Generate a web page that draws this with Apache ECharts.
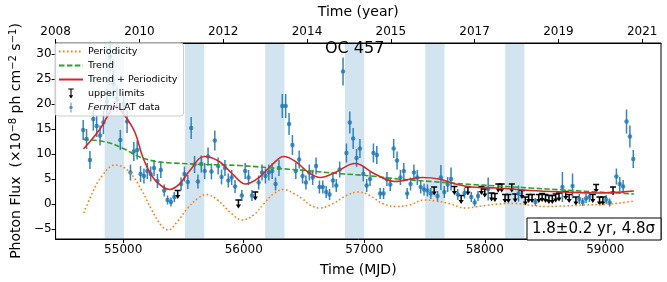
<!DOCTYPE html>
<html><head><meta charset="utf-8">
<script src="https://cdn.jsdelivr.net/npm/echarts@6/dist/echarts.min.js"></script>
<style>html,body{margin:0;padding:0;background:#fff}#c{width:667px;height:282px}</style>
</head><body><div id="c"></div>
<script>
// ---- data ----
const detMJD = [54668,54696,54724,54752,54780,54808,54836,54864,54892,54920,54948,54976,55004,55032,55060,55088,55116,55144,55172,55200,55228,55256,55284,55312,55340,55368,55396,55424,
55480,55508,55536,55564,55592,55620,55648,55676,55704,55732,55760,55788,55816,55844,55872,55900,55928,
55984,56012,56040,56068,56124,56152,56180,56208,56236,56264,56292,56320,56348,56376,56404,56432,56460,56488,56516,56544,56572,56600,56628,56656,56684,56712,56740,56768,56796,56824,56852,56880,56908,56936,56964,56992,57020,57048,57076,57104,57132,57160,57188,57216,57244,57272,57300,57328,57356,57384,57412,57440,57468,57496,57524,57552,
57608,57636,57664,57692,57720,57776,57832,57888,57916,57944,58028,58280,58420,58644,58728,58784,58812,58840,58868,59008,59036,59092,59120,59148,59176,59204,59232];
const detFlux = [14.8,13.0,8.8,17.0,15.6,13.7,16.3,20.5,29.5,24.0,21.0,12.8,20.0,16.5,6.3,10.5,10.8,6.0,5.6,6.6,6.0,7.2,4.6,6.8,2.7,0.8,0.4,1.4,
4.0,6.0,4.4,15.2,7.9,4.5,8.0,6.6,9.5,6.5,12.7,7.6,5.4,7.2,4.7,5.3,3.5,
1.7,6.6,5.3,1.7,4.3,6.3,5.6,6.3,6.6,4.0,7.2,19.6,19.6,16.0,11.8,6.6,8.9,5.6,4.3,6.3,5.3,7.6,3.4,3.4,2.4,1.9,4.7,3.7,6.9,26.5,10.2,16.3,13.1,9.2,11.1,6.0,3.7,5.0,10.2,9.8,2.1,2.1,5.0,3.9,11.1,8.7,5.3,6.6,2.1,4.0,6.3,5.3,3.4,2.9,2.7,2.1,
1.6,5.3,2.4,3.9,5.0,1.9,2.2,1.4,0.3,1.6,3.0,2.1,0.4,3.4,3.6,1.0,0.4,1.1,1.4,0.9,0.3,5.5,4.0,3.5,16.5,13.5,9.0];
const detErr = [2.0,2.0,1.8,2.3,2.2,2.0,2.3,2.6,3.0,2.8,2.6,2.0,2.5,2.3,1.6,1.9,1.9,1.6,1.5,1.6,1.5,1.6,1.4,1.6,1.2,0.9,0.9,1.0,
1.3,1.5,1.4,2.2,1.7,1.4,1.7,1.6,1.8,1.6,2.0,1.7,1.5,1.6,1.4,1.5,1.3,
1.1,1.6,1.5,1.1,1.4,1.6,1.5,1.6,1.6,1.3,1.6,2.4,2.4,2.2,2.0,1.6,1.8,1.5,1.4,1.6,1.5,1.7,1.3,1.3,1.2,1.1,1.4,1.3,1.6,2.8,1.9,2.2,2.1,1.8,1.9,1.5,1.3,1.4,1.9,1.8,1.1,1.1,1.4,1.3,1.9,1.8,1.5,1.6,1.1,1.3,1.6,1.5,1.3,1.2,1.2,1.1,
1.0,2.5,1.2,1.5,2.3,1.1,1.1,1.0,0.8,1.0,2.3,1.6,0.8,3.0,2.5,1.0,0.8,0.9,1.0,0.9,0.8,1.6,1.4,1.3,2.4,2.2,1.8];
const ulMJD = [55452,55956,56096,57580,57748,57804,57860,57972,58000,58056,58084,58112,58140,58168,58196,58224,58252,58308,58336,58364,58392,58448,58476,58504,58532,58560,58588,58616,58672,58700,58756,58896,58924,58952,58980,59064];
const ulFlux = [2.7,0.8,2.4,3.4,3.5,1.7,3.4,3.5,3.0,2.2,2.1,4.0,4.0,1.9,1.9,4.0,2.0,2.7,1.4,1.9,1.9,1.9,2.1,1.9,1.7,1.7,2.0,2.2,2.5,1.9,1.4,1.9,3.9,1.4,1.4,3.4];

const perMJD = [54673,54742,54824,54934,55044,55154,55237,55319,55373,55453,55536,55618,55687,55783,55893,55989,56086,56168,56251,56333,56415,56484,56550,56632,56742,56852,56948,57045,57154,57265,57374,57498,57591,57702,57838,57976,58114,58251,58388,58512,58660,58825,58990,59155,59237];
const perVal = [-1.8,2.1,5.6,7.8,6.6,2.7,-1.2,-4.4,-5.2,-3.4,-0.8,1.1,1.9,0.8,-1.8,-3.2,-2.1,0.1,2.1,2.9,2.1,1.1,-0.2,-0.8,0.1,1.7,2.4,1.7,0.1,-0.5,-0.2,0.8,0.6,0.1,-0.8,-0.4,0.0,0.1,-0.3,-0.5,-0.4,-0.2,-0.1,0.3,0.6];
const trendMJD = [54670,54860,55000,55138,55272,55412,55684,55962,56237,56509,56786,57061,57281,57556,57828,58106,58380,58652,58930,59237];
const trendVal = [12.9,12.4,11.1,9.4,8.5,8.2,7.9,7.7,7.2,6.7,6.1,5.6,5.0,4.5,4.0,3.6,3.2,2.8,2.4,2.0];
const sumMJD = [54670,54808,54876,54934,55008,55096,55165,55247,55330,55385,55467,55550,55674,55797,55907,56016,56127,56237,56333,56429,56539,56635,56758,56923,57088,57253,57481,57619,57756,57894,58106,58380,58655,58930,59237];
const sumVal = [11.0,15.0,17.8,19.6,17.8,14.4,9.2,5.3,3.4,2.9,4.0,6.6,9.5,8.5,6.0,4.0,5.3,7.9,9.5,8.5,6.3,5.3,6.3,8.1,6.0,4.5,5.3,5.0,4.0,3.4,3.2,2.7,2.4,2.2,2.6];

const bandStart = [54846,55512,56178,56840,57506,58169];
const bandEnd   = [55006,55672,56338,57000,57666,58329];

const mjdTicks = [55000,56000,57000,58000,59000];
const yTicks = [-5,0,5,10,15,20,25,30];
const yearLabels = ['2008','2010','2012','2014','2015','2017','2019','2021'];

// ---- chart ----
const F = 'DejaVu Sans';
const chart = echarts.init(document.getElementById('c'), null, {renderer:'canvas'});
const zip = (a,b) => a.map((v,i)=>[v,b[i]]);
const fermiIcon = 'path://M4 0 L6 0 L6 20 L4 20 Z M5 6.5 A3.5 3.5 0 1 1 5 13.5 A3.5 3.5 0 1 1 5 6.5 Z';
const ulIcon = 'path://M0 0 L10 0 L10 2 L6 2 L6 12 L9 12 L5 18 L1 12 L4 12 L4 2 L0 2 Z';
const hideSym = {opacity:0};

chart.setOption({
  animation:false,
  grid:{left:52, right:6, top:38, bottom:42, show:true, borderColor:'#000', borderWidth:1, backgroundColor:'transparent'},
  xAxis:[{
    type:'value', min:54439, max:59462, position:'bottom',
    name:'Time (MJD)', nameLocation:'middle', nameGap:24,
    nameTextStyle:{fontFamily:F, fontSize:14, color:'#000'},
    axisLine:{show:true, onZero:false, lineStyle:{color:'#000', width:1}},
    axisTick:{show:true, length:4, lineStyle:{color:'#000'}, customValues:mjdTicks},
    axisLabel:{fontFamily:F, fontSize:12, color:'#000', margin:5, customValues:mjdTicks, formatter:v=>String(v)},
    splitLine:{show:false}
  },{
    type:'value', min:0, max:7.224, interval:1, position:'top',
    name:'Time (year)', nameLocation:'middle', nameGap:24,
    nameTextStyle:{fontFamily:F, fontSize:14, color:'#000'},
    axisLine:{show:true, onZero:false, lineStyle:{color:'#000', width:1}},
    axisTick:{show:true, length:4, lineStyle:{color:'#000'}},
    axisLabel:{fontFamily:F, fontSize:12, color:'#000', margin:5, formatter:v=>yearLabels[Math.round(v)] || ''},
    splitLine:{show:false}
  }],
  yAxis:{
    type:'value', min:-7, max:32.2,
    name:'Photon Flux  (×10{s|−8} ph cm{s|−2} s{s|−1})', nameLocation:'middle', nameGap:30, nameRotate:90,
    nameTextStyle:{fontFamily:F, fontSize:14, color:'#000', rich:{s:{fontFamily:F, fontSize:10, color:'#000', verticalAlign:'top', padding:[0,0,6,0]}}},
    axisLine:{show:true, onZero:false, lineStyle:{color:'#000', width:1}},
    axisTick:{show:true, length:4, lineStyle:{color:'#000'}, customValues:yTicks},
    axisLabel:{fontFamily:F, fontSize:12, color:'#000', margin:4, customValues:yTicks, formatter:v=> v<0 ? '\u2212'+(-v) : String(v)},
    splitLine:{show:false}
  },
  legend:{
    z:20, orient:'vertical', left:55, top:43, itemWidth:24, itemHeight:10, itemGap:3,
    backgroundColor:'rgba(255,255,255,0.8)', borderColor:'#cccccc', borderWidth:1, borderRadius:3, padding:[3,6,3,3],
    textStyle:{fontFamily:F, fontSize:9.5, color:'#000', lineHeight:11, rich:{i:{fontFamily:F, fontSize:9.5, fontStyle:'italic', color:'#000'}}},
    formatter:n => n==='Fermi-LAT data' ? '{i|Fermi}-LAT data' : n,
    data:[
      {name:'Periodicity', itemStyle:hideSym},
      {name:'Trend', itemStyle:hideSym},
      {name:'Trend + Periodicity', itemStyle:hideSym},
      {name:'upper limits', icon:ulIcon},
      {name:'Fermi-LAT data', icon:fermiIcon}
    ]
  },
  graphic:[
    {type:'text', left:325, top:41, style:{text:'OC 457', font:'16px "DejaVu Sans"', fill:'#000'}, z:10},
    {type:'rect', shape:{x:527, y:218, width:134, height:22}, style:{fill:'#fff', stroke:'#000', lineWidth:1}, z:10},
    {type:'text', left:532, top:222, style:{text:'1.8±0.2 yr, 4.8σ', font:'15px "DejaVu Sans"', fill:'#000'}, z:11}
  ],
  series:[
    {
      name:'bands', type:'custom', z:0, silent:true,
      data: zip(bandStart, bandEnd),
      encode:{x:[0,1]},
      renderItem:(params, api)=>{
        const s = api.coord([api.value(0), 0]);
        const e = api.coord([api.value(1), 0]);
        const cs = params.coordSys;
        return {type:'rect', shape:{x:s[0], y:cs.y, width:e[0]-s[0], height:cs.height}, style:{fill:'#1f77b4', opacity:0.2}};
      }
    },
    {
      name:'errbars', type:'custom', z:3, silent:true,
      data: detMJD.map((m,i)=>[m, detFlux[i], detErr[i]]),
      encode:{x:0, y:1},
      renderItem:(params, api)=>{
        const x = api.value(0), y = api.value(1), e = api.value(2);
        const a = api.coord([x, y-e]), b = api.coord([x, y+e]);
        return {type:'line', shape:{x1:a[0], y1:a[1], x2:b[0], y2:b[1]}, style:{stroke:'#1f77b4', lineWidth:1.5, opacity:0.9}};
      }
    },
    {
      name:'Fermi-LAT data', type:'scatter', z:4,
      data: zip(detMJD, detFlux),
      symbol:'circle', symbolSize:4.5,
      itemStyle:{color:'#1f77b4'}
    },
    {
      name:'upper limits', type:'custom', z:4,
      itemStyle:{color:'#000'},
      data: zip(ulMJD, ulFlux),
      encode:{x:0, y:1},
      renderItem:(params, api)=>{
        const x = api.value(0), y = api.value(1);
        const t = api.coord([x, y]);
        const b = api.coord([x, y-1.5]);
        return {type:'group', children:[
          {type:'line', shape:{x1:t[0]-3, y1:t[1], x2:t[0]+3, y2:t[1]}, style:{stroke:'#000', lineWidth:1.5}},
          {type:'line', shape:{x1:t[0], y1:t[1], x2:t[0], y2:b[1]-2}, style:{stroke:'#000', lineWidth:1.5}},
          {type:'polygon', shape:{points:[[t[0]-2.6,b[1]-3],[t[0]+2.6,b[1]-3],[t[0],b[1]+1]]}, style:{fill:'#000'}}
        ]};
      }
    },
    {
      name:'Periodicity', type:'line', z:5, smooth:0.4, symbol:'none',
      data: zip(perMJD, perVal),
      itemStyle:{color:'#ff7f0e'},
      lineStyle:{color:'#ff7f0e', width:1.6, type:[1.6,2.4]}
    },
    {
      name:'Trend', type:'line', z:5, smooth:0.4, symbol:'none',
      data: zip(trendMJD, trendVal),
      itemStyle:{color:'#2ca02c'},
      lineStyle:{color:'#2ca02c', width:1.6, type:[5.5,2.4]}
    },
    {
      name:'Trend + Periodicity', type:'line', z:5, smooth:0.4, symbol:'none',
      data: zip(sumMJD, sumVal),
      itemStyle:{color:'#d62728'},
      lineStyle:{color:'#d62728', width:1.6}
    }
  ]
});
</script></body></html>
